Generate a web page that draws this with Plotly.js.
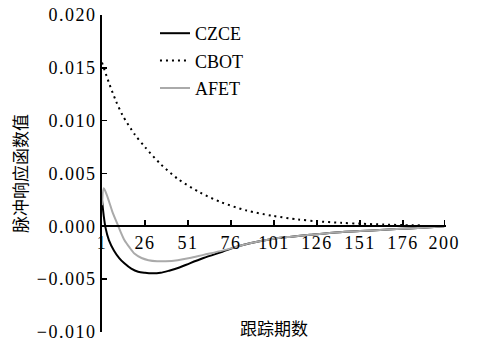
<!DOCTYPE html>
<html>
<head>
<meta charset="utf-8">
<script src="https://cdn.plot.ly/plotly-3.0.1.min.js"></script>
<style>
html,body{margin:0;padding:0;background:#fff;}
#chart{width:477px;height:346px;}
#chart g.xtick text, #chart g.ytick text{letter-spacing:1.5px;}
</style>
</head>
<body>
<div id="chart"></div>
<script>
var czcePeriods = [1,2,3,5,8,11,14,18,22,26,30,35,40,46,52,60,71,80,87,100,110,122,135,151,165,180,190,200];
var czceValues  = [0.0025,0.0010,-0.0001,-0.0013,-0.0023,-0.0030,-0.0035,-0.0040,-0.0043,-0.0044,-0.00445,-0.0044,-0.0042,-0.0039,-0.0035,-0.0030,-0.0024,-0.0019,-0.0016,-0.0012,-0.0010,-0.0008,-0.0006,-0.00045,-0.00032,-0.0002,-0.0001,0];

var cbotPeriods = [1,5,9,13,20,26,35,45,58,70,85,100,115,126,140,151,165,176,186];
var cbotValues  = [0.0155,0.0136,0.0119,0.0105,0.0087,0.0075,0.0059,0.0045,0.0032,0.0023,0.0015,0.0010,0.00065,0.00048,0.00033,0.00025,0.00017,0.00012,0.00009];

var afetPeriods = [1,2,3,5,7,10,12,14,17,20,24,28,33,38,45,52,60,71,80,87,100,110,122,135,151,165,180,190,200];
var afetValues  = [0.0020,0.0036,0.0033,0.0024,0.0014,0.0002,-0.0006,-0.0013,-0.0020,-0.0026,-0.0030,-0.0032,-0.0033,-0.0033,-0.0032,-0.0030,-0.0027,-0.0023,-0.0019,-0.0016,-0.0012,-0.0010,-0.0008,-0.0006,-0.00045,-0.00032,-0.0002,-0.0001,0];

var xTickVals = [1,26,51,76,101,126,151,176,200];
var yTickVals = [0.020,0.015,0.010,0.005,0.000,-0.005,-0.010];
var yTickText = ['0.020','0.015','0.010','0.005','0.000','\u22120.005','\u22120.010'];

var seriesNames = ['CZCE','CBOT','AFET'];
var yTitle = '脉冲响应函数值';
var xTitle = '跟踪期数';

var traces = [
  {x: czcePeriods, y: czceValues, name: seriesNames[0], legendgroup: 'a', mode: 'lines', line: {color: 'black', width: 2, shape: 'spline', smoothing: 0.8}},
  {x: cbotPeriods, y: cbotValues, name: seriesNames[1], legendgroup: 'b', mode: 'lines', line: {color: 'black', width: 2, dash: '2px,4px', shape: 'spline', smoothing: 0.8}},
  {x: afetPeriods, y: afetValues, name: seriesNames[2], legendgroup: 'c', mode: 'lines', line: {color: '#aaaaaa', width: 2, shape: 'spline', smoothing: 0.8}}
];

var layout = {
  width: 477, height: 346,
  margin: {l: 102, r: 31, t: 15, b: 14},
  font: {family: 'Liberation Serif', size: 18, color: 'black'},
  showlegend: true,
  legend: {x: 0.154, y: 1.0, xanchor: 'left', yanchor: 'top', bgcolor: 'rgba(0,0,0,0)',
           font: {family: 'Liberation Serif', size: 18}, tracegroupgap: 1},
  xaxis: {
    range: [1, 201], showgrid: false, zeroline: false,
    showline: true, linecolor: 'black', linewidth: 2,
    anchor: 'free', position: 0.3333,
    ticks: 'inside', ticklen: 5, tickwidth: 1.5, tickcolor: 'black',
    tickvals: xTickVals, ticktext: xTickVals.map(String),
    tickfont: {family: 'Liberation Serif', size: 18}
  },
  yaxis: {
    range: [-0.010, 0.020], showgrid: false, zeroline: false,
    showline: true, linecolor: 'black', linewidth: 2,
    ticks: 'inside', ticklen: 5, tickwidth: 1.5, tickcolor: 'black',
    tickvals: yTickVals, ticktext: yTickText,
    tickfont: {family: 'Liberation Serif', size: 18},
    title: {text: yTitle, standoff: 14, font: {family: 'Noto Sans CJK SC', size: 17}}
  },
  annotations: [{
    text: xTitle, xref: 'paper', yref: 'paper', x: 0.5, y: 0.013, xanchor: 'center', yanchor: 'middle',
    showarrow: false, font: {family: 'Noto Sans CJK SC', size: 17}
  }]
};

Plotly.newPlot('chart', traces, layout, {displayModeBar: false, staticPlot: true});
</script>
</body>
</html>
